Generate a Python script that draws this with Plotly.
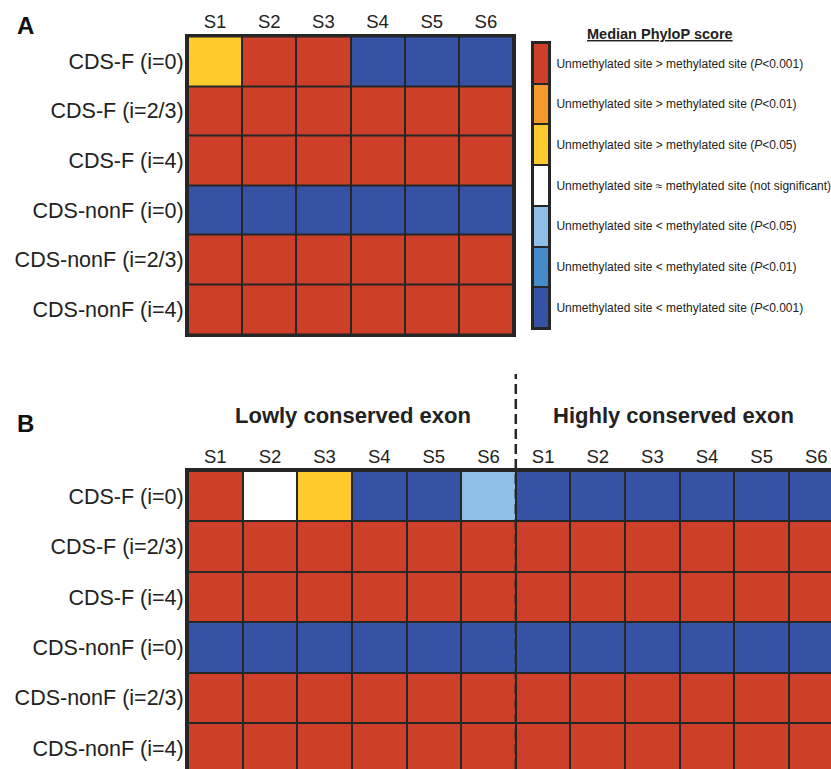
import plotly.graph_objects as go

W, H = 831, 769

samples = ["S1", "S2", "S3", "S4", "S5", "S6"]
samples_b = samples + samples
rows = ["CDS-F (i=0)", "CDS-F (i=2/3)", "CDS-F (i=4)",
        "CDS-nonF (i=0)", "CDS-nonF (i=2/3)", "CDS-nonF (i=4)"]

level_labels = [
    "Unmethylated site > methylated site (<i>P</i><0.001)",
    "Unmethylated site > methylated site (<i>P</i><0.01)",
    "Unmethylated site > methylated site (<i>P</i><0.05)",
    "Unmethylated site \u2248 methylated site (not significant)",
    "Unmethylated site < methylated site (<i>P</i><0.05)",
    "Unmethylated site < methylated site (<i>P</i><0.01)",
    "Unmethylated site < methylated site (<i>P</i><0.001)",
]
level_colors = ["#CD3F28", "#F5992D", "#FECA2D", "#FFFFFF",
                "#8FBFE6", "#468BC9", "#3652A5"]

# level codes: index into level_labels
panel_a = [
    [2, 0, 0, 6, 6, 6],
    [0, 0, 0, 0, 0, 0],
    [0, 0, 0, 0, 0, 0],
    [6, 6, 6, 6, 6, 6],
    [0, 0, 0, 0, 0, 0],
    [0, 0, 0, 0, 0, 0],
]
panel_b_low = [
    [0, 3, 2, 6, 6, 4],
    [0, 0, 0, 0, 0, 0],
    [0, 0, 0, 0, 0, 0],
    [6, 6, 6, 6, 6, 6],
    [0, 0, 0, 0, 0, 0],
    [0, 0, 0, 0, 0, 0],
]
panel_b_high = [
    [6, 6, 6, 6, 6, 6],
    [0, 0, 0, 0, 0, 0],
    [0, 0, 0, 0, 0, 0],
    [6, 6, 6, 6, 6, 6],
    [0, 0, 0, 0, 0, 0],
    [0, 0, 0, 0, 0, 0],
]
panel_b = [lo + hi for lo, hi in zip(panel_b_low, panel_b_high)]

n = len(level_colors)
cscale = []
for i, c in enumerate(level_colors):
    cscale.append([i / n, c])
    cscale.append([(i + 1) / n, c])

FONT = "Arial, Liberation Sans, sans-serif"
DARK = "#262626"
TXT = "#222222"


def px_x(p):
    return p / W


def px_y(p):
    return 1 - p / H


common = dict(colorscale=cscale, zmin=-0.5, zmax=n - 0.5, showscale=False,
              xgap=2, ygap=2, hoverinfo="skip")

fig = go.Figure()
fig.add_trace(go.Heatmap(z=panel_a, x=list(range(6)), y=list(range(6)),
                         xaxis="x", yaxis="y", **common))
fig.add_trace(go.Heatmap(z=panel_b, x=list(range(12)), y=list(range(6)),
                         xaxis="x2", yaxis="y2", **common))
fig.add_trace(go.Heatmap(z=[[i] for i in range(n)], x=[0], y=list(range(n)),
                         xaxis="x3", yaxis="y3", **common))

ax_common = dict(showgrid=False, zeroline=False, fixedrange=True)

fig.update_layout(
    width=W, height=H,
    margin=dict(l=0, r=0, t=0, b=0),
    paper_bgcolor="white",
    plot_bgcolor=DARK,
    font=dict(family=FONT, color=TXT),
    xaxis=dict(domain=[px_x(188), px_x(513)], range=[-0.5, 5.5], side="top",
               tickmode="array", tickvals=list(range(6)), ticktext=samples,
               tickfont=dict(size=18.5, color=TXT), ticks="", ticklabelstandoff=-2,
               showline=True, mirror=True, linewidth=3, linecolor=DARK,
               anchor="y", **ax_common),
    yaxis=dict(domain=[px_y(334), px_y(36.5)], range=[5.5, -0.5],
               tickmode="array", tickvals=list(range(6)), ticktext=rows,
               tickfont=dict(size=21.5, color=TXT), ticks="", ticklabelstandoff=-3,
               showline=True, mirror=True, linewidth=3, linecolor=DARK,
               anchor="x", **ax_common),
    xaxis2=dict(domain=[px_x(188), 1], range=[-0.5, 11.27], side="top",
                tickmode="array", tickvals=list(range(12)), ticktext=samples_b,
                tickfont=dict(size=18.5, color=TXT), ticks="", ticklabelstandoff=-2,
                showline=True, mirror=False, linewidth=3, linecolor=DARK,
                anchor="y2", **ax_common),
    yaxis2=dict(domain=[0, px_y(471)], range=[5.41, -0.5],
                tickmode="array", tickvals=list(range(6)), ticktext=rows,
                tickfont=dict(size=21.5, color=TXT), ticks="", ticklabelstandoff=-3,
                showline=True, mirror=False, linewidth=3, linecolor=DARK,
                anchor="x2", **ax_common),
    xaxis3=dict(domain=[px_x(533), px_x(549)], range=[-0.5, 0.5],
                showticklabels=False, showline=True, mirror=True,
                linewidth=2, linecolor=DARK, anchor="y3", **ax_common),
    yaxis3=dict(domain=[px_y(328), px_y(43)], range=[n - 0.5, -0.5],
                side="right", tickmode="array", tickvals=list(range(n)),
                ticktext=level_labels, tickfont=dict(size=12, color=TXT),
                ticks="outside", ticklen=3, tickcolor="rgba(0,0,0,0)",
                showline=True, mirror=True, linewidth=2, linecolor=DARK,
                anchor="x3", **ax_common),
)

annos = [
    dict(text="<b>A</b>", x=px_x(15), y=px_y(26), xanchor="left", yanchor="middle",
         font=dict(size=24, color="#111")),
    dict(text="<b>B</b>", x=px_x(15), y=px_y(424), xanchor="left", yanchor="middle",
         font=dict(size=24, color="#111")),
    dict(text="<b><u>Median PhyloP score</u></b>", x=px_x(660), y=px_y(34),
         xanchor="center", yanchor="middle", font=dict(size=14.5, color=TXT)),
    dict(text="<b>Lowly conserved exon</b>", x=px_x(353), y=px_y(415),
         xanchor="center", yanchor="middle", font=dict(size=22, color=TXT)),
    dict(text="<b>Highly conserved exon</b>", x=px_x(673), y=px_y(415),
         xanchor="center", yanchor="middle", font=dict(size=22, color=TXT)),
]
for a in annos:
    a.update(xref="paper", yref="paper", showarrow=False)
fig.update_layout(annotations=annos)

fig.add_shape(type="line", xref="x2", yref="paper", x0=5.5, x1=5.5,
              y0=0, y1=px_y(374), line=dict(color=DARK, width=2.5, dash="10px,5px"),
              layer="above")

fig.write_html(
    "out.html",
    config={"displayModeBar": False},
    post_script="document.body.style.margin='0';document.body.style.overflow='hidden';",
)
